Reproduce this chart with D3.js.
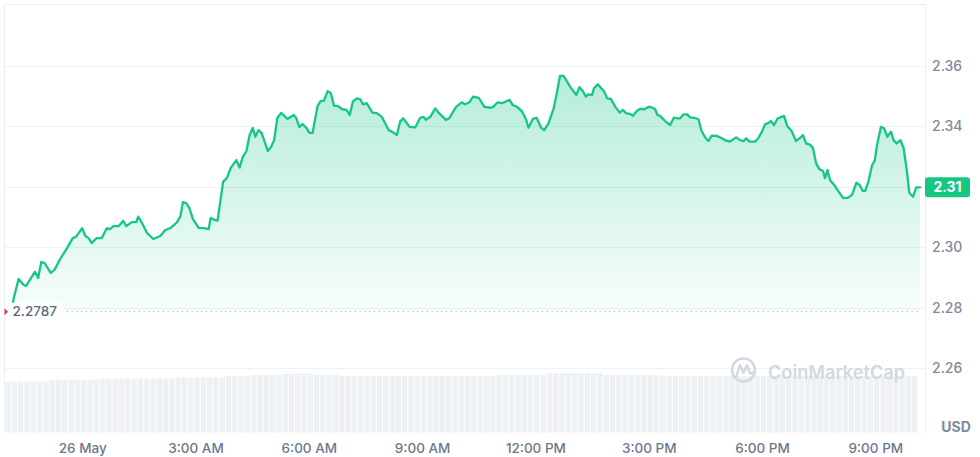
<!DOCTYPE html>
<html>
<head>
<meta charset="utf-8">
<script src="https://cdn.jsdelivr.net/npm/d3@7"></script>
<style>
  html, body { margin: 0; padding: 0; background: #fff; }
  svg { display: block; font-family: Inter, "Noto Sans", sans-serif; }
</style>
</head>
<body>
<svg id="chart" width="980" height="457"></svg>
<script>
// ---- Data (minutes from 26 May 00:00, price in USD) ----
const minutes = [-112,-109,-101,-93,-89,-75,-70,-65,-60,-50,-44,-35,-24,-15,-10,0,5,10,15,23,31,39,44,50,58,65,70,79,86,89,95,103,113,124,132,140,150,156,160,165,170,176,185,193,201,204,210,215,224,230,236,245,250,255,261,266,271,275,280,285,295,300,305,310,316,326,336,340,345,350,356,361,366,374,379,384,390,395,400,406,413,420,425,430,436,442,446,452,461,468,476,480,487,492,500,505,510,520,529,537,542,546,553,561,566,578,583,594,603,608,615,621,630,639,649,653,660,667,679,684,691,699,705,709,716,722,729,734,741,749,754,759,765,775,785,790,795,800,804,810,813,819,826,829,834,840,847,854,859,864,871,875,881,886,893,900,905,910,914,918,926,934,940,946,950,955,961,966,972,979,984,990,995,1000,1008,1016,1021,1029,1039,1045,1051,1055,1060,1069,1074,1080,1085,1090,1094,1099,1105,1109,1115,1120,1127,1134,1141,1145,1150,1157,1161,1166,1171,1177,1180,1184,1188,1196,1202,1209,1217,1223,1230,1235,1240,1244,1249,1255,1259,1263,1269,1274,1279,1285,1289,1294,1300,1305,1310,1314,1320,1325,1331];
const prices = [2.2787,2.2829,2.2895,2.2875,2.2872,2.2919,2.2898,2.2951,2.2948,2.2915,2.2925,2.2961,2.2997,2.3030,2.3034,2.3063,2.3037,2.3030,2.3014,2.3030,2.3030,2.3063,2.3060,2.3070,2.3070,2.3087,2.3070,2.3083,2.3083,2.3101,2.3080,2.3047,2.3027,2.3037,2.3057,2.3063,2.3081,2.3101,2.3149,2.3146,2.3131,2.3093,2.3064,2.3063,2.3060,2.3097,2.3090,2.3088,2.3217,2.3229,2.3262,2.3288,2.3263,2.3298,2.3318,2.3371,2.3394,2.3365,2.3387,2.3378,2.3318,2.3331,2.3354,2.3427,2.3444,2.3424,2.3437,2.3427,2.3397,2.3407,2.3395,2.3378,2.3378,2.3467,2.3484,2.3484,2.3516,2.3509,2.3468,2.3467,2.3456,2.3454,2.3437,2.3481,2.3492,2.3489,2.3472,2.3476,2.3445,2.3443,2.3431,2.3415,2.3387,2.3382,2.3371,2.3415,2.3426,2.3398,2.3396,2.3428,2.3431,2.3421,2.3431,2.3459,2.3445,2.3421,2.3426,2.3464,2.3479,2.3472,2.3479,2.3498,2.3494,2.3464,2.3461,2.3464,2.3479,2.3476,2.3487,2.3470,2.3464,2.3448,2.3423,2.3395,2.3424,2.3428,2.3395,2.3387,2.3410,2.3459,2.3509,2.3566,2.3566,2.3531,2.3503,2.3529,2.3517,2.3498,2.3505,2.3503,2.3525,2.3539,2.3522,2.3516,2.3492,2.3490,2.3464,2.3445,2.3454,2.3443,2.3440,2.3434,2.3450,2.3457,2.3456,2.3464,2.3462,2.3457,2.3437,2.3434,2.3417,2.3404,2.3428,2.3426,2.3426,2.3439,2.3439,2.3429,2.3428,2.3423,2.3384,2.3362,2.3351,2.3369,2.3368,2.3360,2.3354,2.3349,2.3363,2.3354,2.3351,2.3360,2.3349,2.3349,2.3360,2.3382,2.3407,2.3410,2.3417,2.3404,2.3426,2.3429,2.3434,2.3401,2.3384,2.3351,2.3362,2.3371,2.3343,2.3338,2.3327,2.3277,2.3258,2.3252,2.3228,2.3255,2.3222,2.3202,2.3183,2.3162,2.3164,2.3173,2.3213,2.3206,2.3186,2.3186,2.3217,2.3272,2.3285,2.3340,2.3398,2.3393,2.3365,2.3382,2.3354,2.3343,2.3354,2.3327,2.3255,2.3180,2.3167,2.3198,2.3198];

// Volume bars, 10-minute buckets starting at 25 May 21:58 (arbitrary units, M)
const volumeStart = -122;
const volumeStep = 10;
const volumes = [
  50.8,51.0,51.0,51.1,51.0,51.2,51.1,
  52.7,52.8,52.8,52.9,52.8,52.8,52.9,52.8,
  53.7,53.8,53.8,53.9,53.8,53.8,53.9,53.8,53.8,53.9,53.8,53.8,
  55.1,55.2,55.2,55.3,55.2,55.2,55.3,55.2,
  56.4,56.5,56.6,56.5,
  57.4,57.5,57.6,57.5,57.5,
  58.7,58.8,58.9,
  59.2,59.0,
  58.2,58.0,57.9,57.8,
  56.6,56.5,56.5,56.6,56.5,56.5,56.4,56.5,56.5,56.6,56.5,56.5,56.5,56.4,56.5,56.5,56.6,56.5,56.5,56.5,56.4,56.5,56.5,56.5,56.6,
  57.7,57.8,57.8,57.9,57.8,57.8,57.9,57.8,
  59.3,59.4,59.5,59.5,59.6,59.5,59.5,59.4,59.3,
  57.6,57.5,57.5,57.4,57.5,57.5,57.4,57.5,57.3,
  56.6,56.5,56.5,56.6,56.5,56.5,56.5,56.4,56.5,56.5,56.6,56.5,56.5,56.5,56.4,56.5,56.5,56.5,56.6,56.5,56.5,56.4,56.5,56.5,56.5,56.6,56.5,56.5,56.4,56.5,56.5,56.5,56.4,56.5,56.3,56.3,56.2,56.3,56.2,56.2,56.1
];

const yTicks = [2.26, 2.28, 2.30, 2.32, 2.34, 2.36];
const openPrice = 2.2787;
const openLabel = "2.2787";
const lastLabel = "2.31";
const currency = "USD";
const watermark = "CoinMarketCap";

// ---- Setup ----
const svg = d3.select("#chart");
const base = new Date(2025, 4, 26, 0, 0, 0);
const toDate = m => new Date(base.getTime() + m * 60000);
const data = minutes.map((m, i) => ({ t: toDate(m), p: prices[i] }));

const x = d3.scaleTime()
  .domain([toDate(-112), toDate(1331)])
  .range([11.7, 920]);
const y = d3.scaleLinear()
  .domain([2.26, 2.36])
  .range([368.2, 65.7]);
const yv = d3.scaleLinear().domain([0, 60]).range([432.5, 372.5]);

const green = "#16c784";
const gridColor = "#eff2f5";

// Frame
svg.append("path")
  .attr("d", "M4.5,432.5 V4.5 H925.5 V432.5")
  .attr("fill", "none").attr("stroke", "#eceef2").attr("stroke-width", 1);

// Gridlines
const grid = svg.append("g");
yTicks.forEach(v => {
  grid.append("line")
    .attr("x1", 4.5).attr("x2", 925.5)
    .attr("y1", Math.round(y(v)) + 0.5).attr("y2", Math.round(y(v)) + 0.5)
    .attr("stroke", gridColor).attr("stroke-width", 1);
});

// Volume bars
const barW = x(toDate(volumeStep)) - x(toDate(0));
svg.append("g").selectAll("rect")
  .data(volumes)
  .join("rect")
  .attr("x", (d, i) => x(toDate(volumeStart + i * volumeStep)))
  .attr("width", barW - 0.8)
  .attr("y", d => yv(d))
  .attr("height", d => yv(0) - yv(d))
  .attr("fill", "#eef1f4");

// Watermark
const wm = svg.append("g");
wm.append("circle").attr("cx", 743.5).attr("cy", 370).attr("r", 11.5)
  .attr("fill", "none").attr("stroke", "#d3d8e0").attr("stroke-width", 2.6);
wm.append("path")
  .attr("d", "M736.5,376 L740,365 L743.5,373 L747,365 L749.5,372.5 Q751,375 752.5,372")
  .attr("fill", "none").attr("stroke", "#d3d8e0").attr("stroke-width", 2.4)
  .attr("stroke-linejoin", "round").attr("stroke-linecap", "round");
wm.append("text").attr("x", 768).attr("y", 378.5)
  .attr("font-size", 18.5).attr("font-weight", 600).attr("fill", "#d3d8e0")
  .attr("textLength", 137).attr("lengthAdjust", "spacingAndGlyphs")
  .text(watermark);

// Area gradient
const defs = svg.append("defs");
const grad = defs.append("linearGradient").attr("id", "fillGrad")
  .attr("gradientUnits", "userSpaceOnUse")
  .attr("x1", 0).attr("x2", 0)
  .attr("y1", y(d3.max(prices))).attr("y2", y(openPrice));
grad.append("stop").attr("offset", 0).attr("stop-color", green).attr("stop-opacity", 0.32);
grad.append("stop").attr("offset", 1).attr("stop-color", green).attr("stop-opacity", 0.03);

const area = d3.area().x(d => x(d.t)).y0(y(openPrice)).y1(d => y(d.p));
svg.append("path").datum(data).attr("d", area).attr("fill", "url(#fillGrad)");

// Dotted open-price line
svg.append("line")
  .attr("x1", 62).attr("x2", 920)
  .attr("y1", y(openPrice)).attr("y2", y(openPrice))
  .attr("stroke", "#a8b1c2").attr("stroke-width", 1)
  .attr("stroke-dasharray", "1.2,3.6");

// Price line
const line = d3.line().x(d => x(d.t)).y(d => y(d.p));
svg.append("path").datum(data).attr("d", line)
  .attr("fill", "none").attr("stroke", green).attr("stroke-width", 2.3)
  .attr("stroke-linejoin", "round").attr("stroke-linecap", "round");

// Open-price label
const oy = y(openPrice);
svg.append("rect").attr("x", 7).attr("y", oy - 9).attr("width", 56).attr("height", 18)
  .attr("rx", 3).attr("fill", "#fff");
svg.append("path").attr("d", `M4.5,${oy - 3.5} L8,${oy} L4.5,${oy + 3.5} Z`).attr("fill", "#ea3943");
svg.append("text").attr("x", 12.5).attr("y", oy).attr("dy", "0.35em")
  .attr("font-size", 13.5).attr("font-weight", 500).attr("fill", "#58667e").text(openLabel);

// Y axis (right)
const yAxis = d3.axisRight(y).tickValues(yTicks).tickFormat(d3.format(".2f")).tickSize(0).tickPadding(0);
const yg = svg.append("g").attr("transform", "translate(932,0)").call(yAxis);
yg.select(".domain").remove();
yg.selectAll("text").attr("font-size", 14).attr("fill", "#808a9d")
  .attr("font-family", "Inter, 'Noto Sans', sans-serif").attr("font-weight", 500);

// Last price label
const lastY = y(prices[prices.length - 1]);
svg.append("rect").attr("x", 925).attr("y", lastY - 10).attr("width", 45).attr("height", 20)
  .attr("rx", 3).attr("fill", green);
svg.append("text").attr("x", 947.5).attr("y", lastY).attr("dy", "0.36em")
  .attr("text-anchor", "middle").attr("font-size", 14).attr("font-weight", 700)
  .attr("fill", "#fff").text(lastLabel);

// Currency label
svg.append("text").attr("x", 956).attr("y", 427).attr("dy", "0.35em")
  .attr("text-anchor", "middle").attr("font-size", 14).attr("font-weight", 700)
  .attr("fill", "#808a9d").text(currency);

// X axis
const fmtDay = d3.timeFormat("%-d %b");
const fmtHour = d3.timeFormat("%-I:%M %p");
const xAxis = d3.axisBottom(x)
  .ticks(d3.timeHour.every(3))
  .tickFormat(d => d.getHours() === 0 ? fmtDay(d) : fmtHour(d))
  .tickSize(0).tickPadding(0);
const xg = svg.append("g").attr("transform", "translate(0,443.5)").call(xAxis);
xg.select(".domain").remove();
xg.selectAll("text").attr("font-size", 13.5).attr("fill", "#6b7790")
  .attr("font-family", "Inter, 'Noto Sans', sans-serif").attr("font-weight", 500);
</script>
</body>
</html>
